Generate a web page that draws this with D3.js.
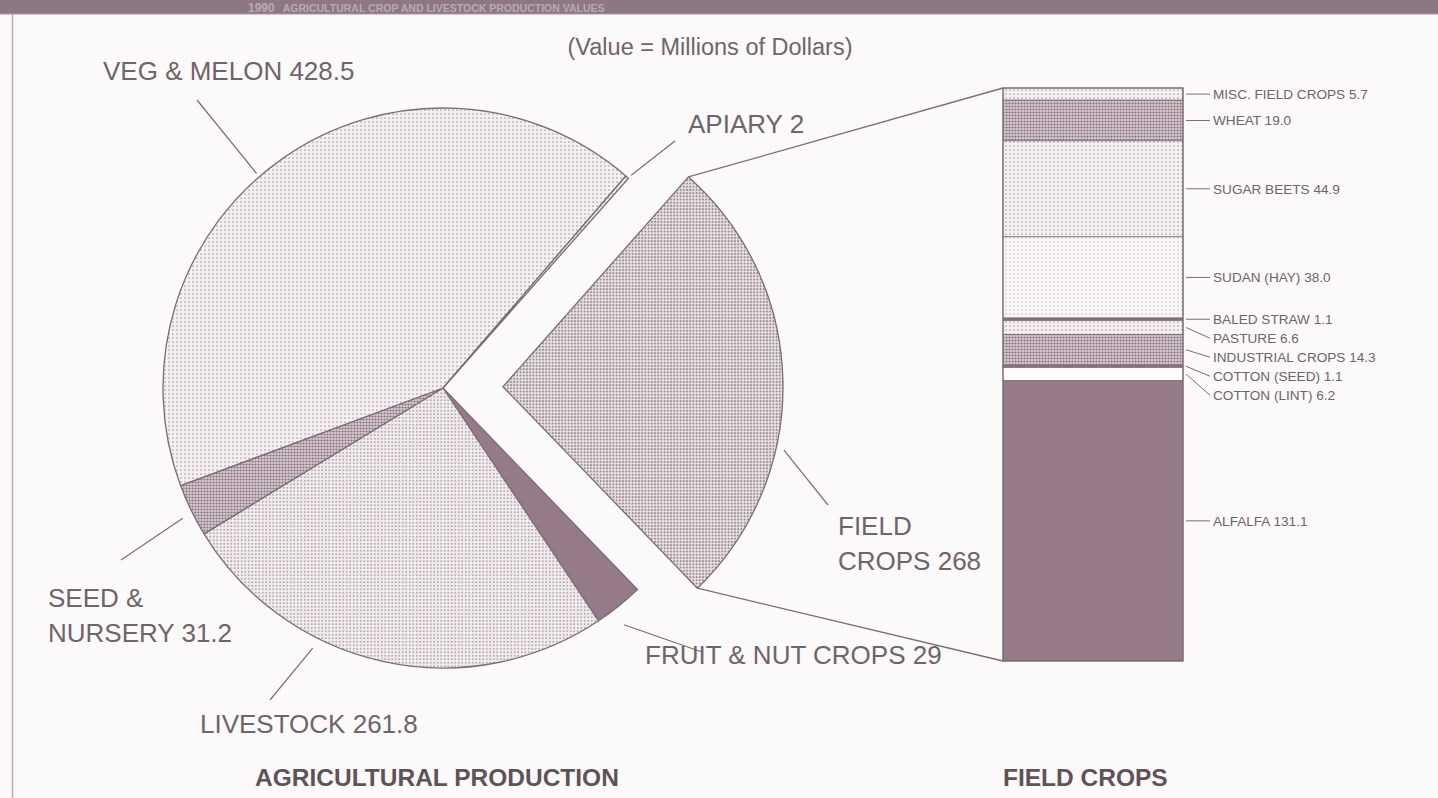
<!DOCTYPE html>
<html>
<head>
<meta charset="utf-8">
<script src="https://cdn.jsdelivr.net/npm/d3@7"></script>
<style>
  html, body { margin: 0; padding: 0; background: #fcf9fa; }
  svg { display: block; }
  text { font-family: "Liberation Sans", Arial, Helvetica, sans-serif; }
</style>
</head>
<body>
<svg id="chart" width="1438" height="798"></svg>
<script>
// ---------------- DATA ----------------
const pieCategories = ["FIELD CROPS", "FRUIT & NUT CROPS", "LIVESTOCK", "SEED & NURSERY", "VEG & MELON", "APIARY"];
const pieValues     = [268, 29, 261.8, 31.2, 428.5, 2];

const fieldCategories = ["MISC. FIELD CROPS", "WHEAT", "SUGAR BEETS", "SUDAN (HAY)", "BALED STRAW",
                         "PASTURE", "INDUSTRIAL CROPS", "COTTON (SEED)", "COTTON (LINT)", "ALFALFA"];
const fieldValues     = [5.7, 19.0, 44.9, 38.0, 1.1, 6.6, 14.3, 1.1, 6.2, 131.1];

const subtitle   = "(Value = Millions of Dollars)";
const titleYear  = "1990";
const titleText  = "AGRICULTURAL CROP AND LIVESTOCK PRODUCTION VALUES";
const pieTitle   = "AGRICULTURAL PRODUCTION";
const barTitle   = "FIELD CROPS";

// ---------------- STYLE / LAYOUT ----------------
const W = 1438, H = 798;
const svg = d3.select("#chart");
const textColor = "#6f6469";
const lineColor = "#7a6e74";
const mauve = "#957b89";
const darkMauve = "#866f7b";

const defs = svg.append("defs");
function dotPattern(id, s, bg, dot, r) {
  const p = defs.append("pattern").attr("id", id).attr("width", s).attr("height", s)
    .attr("patternUnits", "userSpaceOnUse");
  p.append("rect").attr("width", s).attr("height", s).attr("fill", bg);
  p.append("circle").attr("cx", s / 2).attr("cy", s / 2).attr("r", r).attr("fill", dot);
}
dotPattern("p-veg",   4,   "#f4f0f1", "#ab9ca3", 0.85);
dotPattern("p-sudan", 4,   "#f9f6f7", "#c2b6bb", 0.75);
dotPattern("p-live",  3.5, "#f0ebed", "#a5969d", 0.9);
dotPattern("p-field", 3.2, "#e6dfe2", "#998790", 1.0);
dotPattern("p-seed",  3,   "#d6cad0", "#89737f", 1.1);

// background, frame
svg.append("rect").attr("width", W).attr("height", H).attr("fill", "#fcf9fa");
svg.append("line").attr("x1", 12.5).attr("x2", 12.5).attr("y1", 14).attr("y2", H)
  .attr("stroke", "#b7adb2").attr("stroke-width", 1.5);

// title band
const band = svg.append("g");
band.append("rect").attr("width", W).attr("height", 14).attr("fill", "#8c7882");
band.append("line").attr("x1", 0).attr("x2", W).attr("y1", 14).attr("y2", 14)
  .attr("stroke", "#a8989f").attr("stroke-width", 1.2);
const tt = band.append("text").attr("x", 248).attr("y", 11.5).attr("fill", "#b9aab1")
  .attr("font-weight", "bold");
tt.append("tspan").attr("font-size", 12).text(titleYear);
tt.append("tspan").attr("font-size", 10.5).attr("dx", 8).text(titleText);

// subtitle
svg.append("text").attr("x", 710).attr("y", 55).attr("text-anchor", "middle")
  .attr("font-size", 23.5).attr("fill", textColor).text(subtitle);

// ---------------- PIE ----------------
const cx = 443, cy = 388, R = 280, explode = 60;
const total = d3.sum(pieValues);
const fieldSweep = pieValues[0] / total * 2 * Math.PI;
const midField = 88.75 * Math.PI / 180;             // field crops slice points right
const start = midField - fieldSweep / 2;
const pie = d3.pie().sort(null).value(d => d).startAngle(start).endAngle(start + 2 * Math.PI);
const arcs = pie(pieValues);
const arc = d3.arc().innerRadius(0).outerRadius(R);
const pieFills = ["url(#p-field)", mauve, "url(#p-live)", "url(#p-seed)", "url(#p-veg)", "url(#p-veg)"];

function offsetOf(i) {
  if (i !== 0) return [0, 0];
  const m = (arcs[0].startAngle + arcs[0].endAngle) / 2;
  return [Math.sin(m) * explode, -Math.cos(m) * explode];
}
const pieG = svg.append("g").attr("transform", `translate(${cx},${cy})`);
pieG.selectAll("path.slice").data(arcs).join("path").attr("class", "slice")
  .attr("transform", (d, i) => `translate(${offsetOf(i)})`)
  .attr("d", arc)
  .attr("fill", (d, i) => pieFills[i])
  .attr("stroke", lineColor).attr("stroke-width", 1.3).attr("stroke-linejoin", "round");

// ---------------- BAR (FIELD CROPS breakdown) ----------------
const barX = 1003, barW = 180;
const y = d3.scaleLinear().domain([0, d3.sum(fieldValues)]).range([88, 661]);
const cum = d3.cumsum(fieldValues);
const segs = fieldValues.map((v, i) => ({ name: fieldCategories[i], v, y0: cum[i] - v, y1: cum[i] }));
const barFills = ["url(#p-veg)", "url(#p-seed)", "url(#p-veg)", "url(#p-sudan)", darkMauve,
                  "url(#p-veg)", "url(#p-seed)", darkMauve, "#fdfbfc", mauve];
const barG = svg.append("g");
barG.selectAll("rect.seg").data(segs).join("rect").attr("class", "seg")
  .attr("x", barX).attr("width", barW)
  .attr("y", d => y(d.y0)).attr("height", d => y(d.y1) - y(d.y0))
  .attr("fill", (d, i) => barFills[i])
  .attr("stroke", lineColor).attr("stroke-width", 0.8);
barG.append("rect").attr("x", barX).attr("width", barW).attr("y", y(0))
  .attr("height", y(d3.sum(fieldValues)) - y(0)).attr("fill", "none")
  .attr("stroke", lineColor).attr("stroke-width", 1.2);

// connectors from exploded slice to bar
const [ox, oy] = offsetOf(0);
const pA = [cx + ox + Math.sin(arcs[0].startAngle) * R, cy + oy - Math.cos(arcs[0].startAngle) * R];
const pB = [cx + ox + Math.sin(arcs[0].endAngle) * R,   cy + oy - Math.cos(arcs[0].endAngle) * R];
svg.append("line").attr("x1", pA[0]).attr("y1", pA[1]).attr("x2", barX).attr("y2", y(0))
  .attr("stroke", lineColor).attr("stroke-width", 1.3);
svg.append("line").attr("x1", pB[0]).attr("y1", pB[1]).attr("x2", barX).attr("y2", y(d3.sum(fieldValues)))
  .attr("stroke", lineColor).attr("stroke-width", 1.3);

// bar labels with simple collision relaxation
const minGap = 19;
let prev = -Infinity;
segs.forEach(s => {
  s.mid = (y(s.y0) + y(s.y1)) / 2;
  s.ly = Math.max(s.mid, prev + minGap);
  prev = s.ly;
});
const lblX = barX + barW + 30;
segs.forEach(s => {
  svg.append("line").attr("x1", barX + barW + 3).attr("y1", s.mid)
    .attr("x2", lblX - 3).attr("y2", s.ly)
    .attr("stroke", lineColor).attr("stroke-width", 1);
  svg.append("text").attr("x", lblX).attr("y", s.ly + 4.8)
    .attr("font-size", 13.6).attr("fill", textColor)
    .text(`${s.name} ${s.v.toFixed(1)}`);
});

// ---------------- PIE LABELS ----------------
const pieLabelLayout = [
  { ang: 12.7,   r: 288, end: [828, 505], x: 838, ys: [535, 570], lines: ["FIELD", "CROPS"] },
  { ang: 52.6,   r: 298, end: [702, 652], x: 645, ys: [664], lines: [null] },
  { ang: 116.6,  r: 291, end: [270, 700], x: 200, ys: [733], lines: [null] },
  { ang: 153.4,  r: 291, end: [121, 560], x: 48,  ys: [607, 642], lines: ["SEED &", "NURSERY"] },
  { ang: -131,   r: 284, end: [197, 100], x: 103, ys: [80], lines: [null] },
  { ang: -48.5,  r: 284, end: [675, 141], x: 688, ys: [133], lines: [null] }
];
pieLabelLayout.forEach((L, i) => {
  const [dx, dy] = offsetOf(i);
  const a = L.ang * Math.PI / 180;
  const sx = cx + dx + Math.cos(a) * L.r, sy = cy + dy + Math.sin(a) * L.r;
  svg.append("line").attr("x1", sx).attr("y1", sy).attr("x2", L.end[0]).attr("y2", L.end[1])
    .attr("stroke", lineColor).attr("stroke-width", 1.2);
  const t = svg.append("text").attr("font-size", 26).attr("fill", textColor);
  L.lines.forEach((ln, k) => {
    const last = k === L.lines.length - 1;
    const content = ln === null ? `${pieCategories[i]} ${pieValues[i]}`
                    : (last ? `${ln} ${pieValues[i]}` : ln);
    t.append("tspan").attr("x", L.x).attr("y", L.ys[k]).text(content);
  });
});

// ---------------- TITLES ----------------
svg.append("text").attr("x", 255).attr("y", 786).attr("font-size", 24.5).attr("font-weight", "bold")
  .attr("fill", "#5f5359").text(pieTitle);
svg.append("text").attr("x", barX).attr("y", 786).attr("font-size", 24.5).attr("font-weight", "bold")
  .attr("fill", "#5f5359").text(barTitle);
</script>
</body>
</html>
